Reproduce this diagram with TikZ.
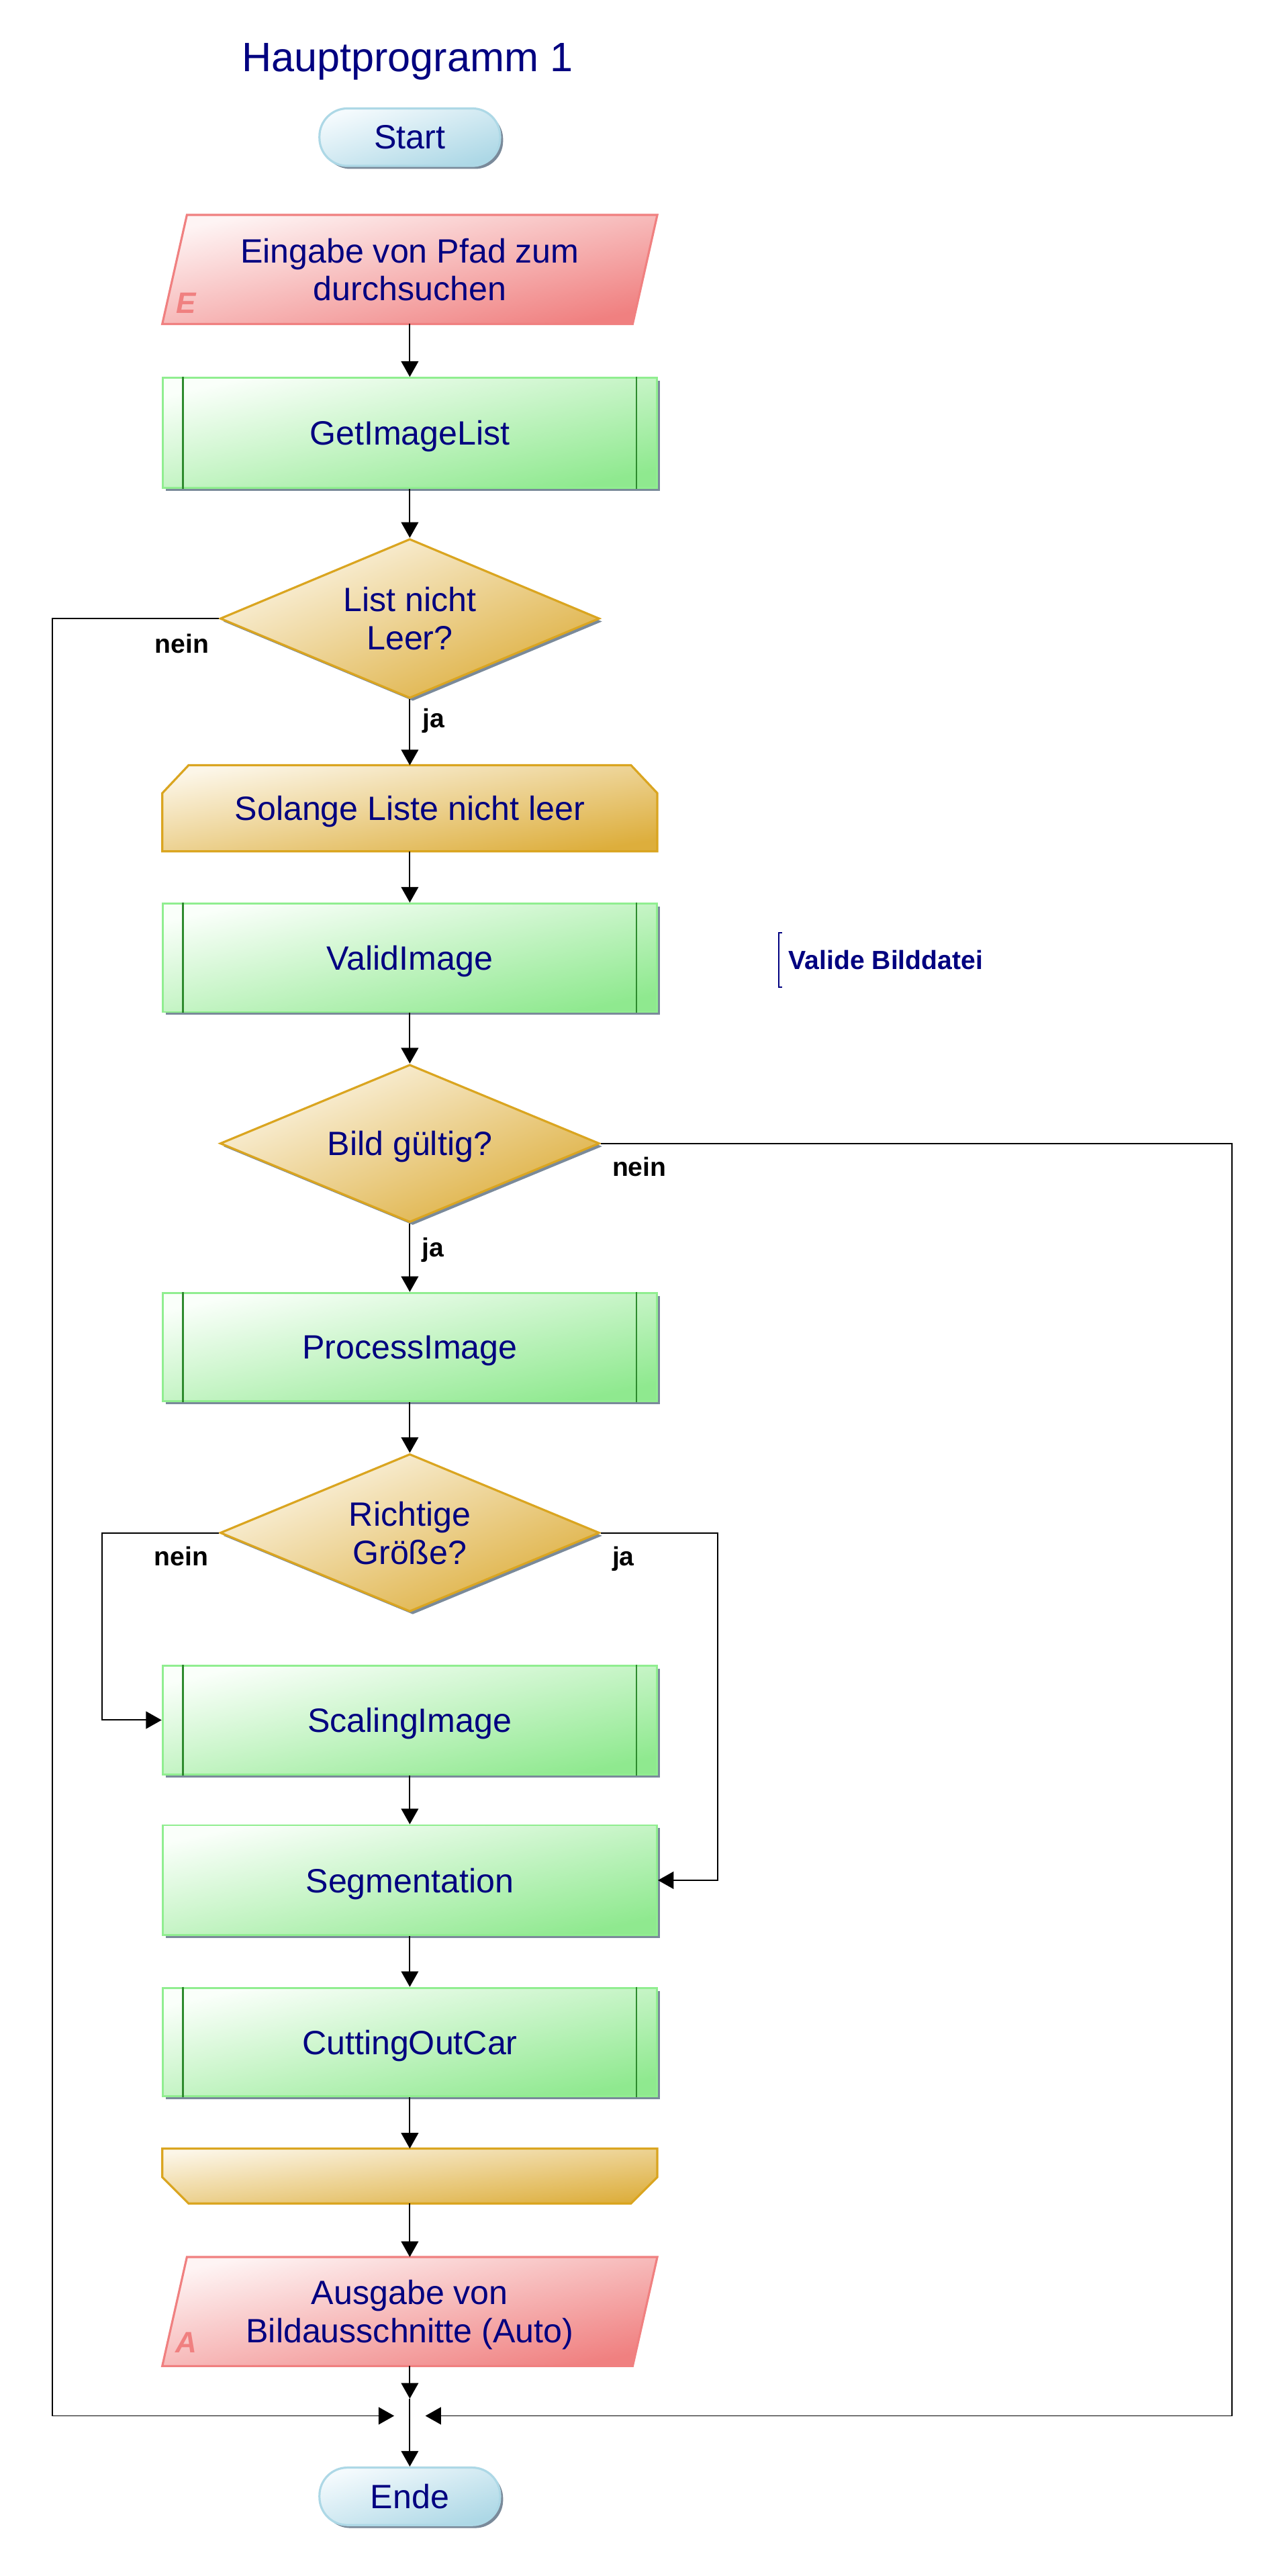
\documentclass[tikz,border=0pt]{standalone}
\usepackage{fontspec}
\setmainfont{Liberation Sans}
\usetikzlibrary{shapes.geometric,arrows.meta,shadows}
\pgfdeclarelayer{back}
\pgfdeclarelayer{bg}
\pgfsetlayers{back,bg,main}
\definecolor{navy}{HTML}{000080}
\definecolor{shd}{HTML}{7A8A9A}
\definecolor{gborder}{HTML}{90EE90}
\definecolor{gstart}{HTML}{FAFFFA}
\definecolor{gend}{HTML}{8FE98F}
\definecolor{gline}{HTML}{2E8B2E}
\definecolor{oborder}{HTML}{DAA520}
\definecolor{ostart}{HTML}{FCF6E8}
\definecolor{oend}{HTML}{DDAE3C}
\definecolor{rborder}{HTML}{F08080}
\definecolor{rstart}{HTML}{FEF4F4}
\definecolor{rend}{HTML}{F08080}
\definecolor{bborder}{HTML}{ADD8E6}
\definecolor{bstart}{HTML}{F4FAFD}
\definecolor{bend}{HTML}{ADD8E6}
\tikzset{
  txt/.style={text=navy,font=\fontsize{20.5}{23.2}\selectfont,align=center,text depth=0pt},
  shadowed/.style={drop shadow={shadow xshift=1.8pt,shadow yshift=-1.8pt,fill=shd,opacity=1}},
  terminal/.style={txt,rectangle,rounded corners=17pt,minimum width=110pt,minimum height=35pt,
    draw=bborder,line width=1.3pt,top color=bstart,bottom color=bend,shading angle=17.6,shadowed},
  proc/.style={txt,rectangle,minimum width=301pt,minimum height=67pt,
    draw=gborder,line width=1.2pt,top color=gstart,bottom color=gend,shading angle=12.5,shadowed},
  decision/.style={txt,diamond,shape aspect=2.4,minimum width=231pt,minimum height=97pt,inner sep=0pt,
    draw=oborder,line width=1.3pt,top color=ostart,bottom color=oend,shading angle=22.8,shadowed},
  ghost/.style={txt,rectangle,inner sep=0pt,minimum width=301pt},
  conn/.style={line width=0.8pt,-{Triangle[length=9.5pt,width=10.5pt]}},
  lbl/.style={font=\fontsize{16}{18}\selectfont\bfseries,text=black,anchor=base west,inner sep=0pt},
  iolet/.style={font=\fontsize{18}{20}\selectfont\bfseries\itshape,text=rborder,anchor=base west,inner sep=0pt},
  annot/.style={font=\fontsize{16}{18}\selectfont\bfseries,text=navy,anchor=base west,inner sep=0pt},
  innerline/.style={gline,line width=1pt},
  redshape/.style={draw=rborder,line width=1.3pt,top color=rstart,bottom color=rend,shading angle=12.4},
  goldshape/.style={draw=oborder,line width=1.3pt,top color=ostart,bottom color=oend},
}
\newcommand\innerlines[1]{%
  \draw[innerline] ([xshift=13pt]#1.north west) -- ([xshift=13pt]#1.south west);
  \draw[innerline] ([xshift=-13pt]#1.north east) -- ([xshift=-13pt]#1.south east);}
\begin{document}
\begin{tikzpicture}[x=1pt,y=-1pt]
\begin{pgfonlayer}{back}
\fill[white] (0,0) rectangle (782,1568);
\end{pgfonlayer}
\useasboundingbox (0,0) rectangle (782,1568);

% title
\node[text=navy,font=\fontsize{25}{30}\selectfont,anchor=base,inner sep=0pt] (title) at (248,43.6) {Hauptprogramm 1};

% nodes
\node[terminal] (start) at (249.5,83.5) {Start};
\node[ghost,minimum height=66pt] (in) at (249.5,164) {Eingabe von Pfad zum\\durchsuchen};
\node[iolet] (inE) at (107,190.7) {E};
\node[proc] (p1) at (249.5,263.5) {GetImageList};
\node[decision] (d1) at (249.5,376.5) {List nicht\\Leer?};
\node[ghost,minimum height=52pt] (ls) at (249.5,492) {Solange Liste nicht leer};
\node[proc,minimum height=66pt] (p2) at (249.5,583) {ValidImage};
\node[decision,minimum height=96pt] (d2) at (249.5,696) {Bild gültig?};
\node[proc,minimum height=66pt] (p3) at (249.5,820) {ProcessImage};
\node[decision,minimum height=96pt] (d3) at (249.5,933) {Richtige\\Größe?};
\node[proc,minimum height=66pt] (p4) at (249.5,1047) {ScalingImage};
\node[proc] (p5) at (249.5,1144.5) {Segmentation};
\node[proc,minimum height=66pt] (p6) at (249.5,1243) {CuttingOutCar};
\node[ghost,minimum height=33pt] (le) at (249.5,1324.5) {};
\node[ghost,minimum height=66pt] (out) at (249.5,1407) {Ausgabe von\\Bildausschnitte (Auto)};
\node[iolet] (outA) at (106.5,1432) {A};
\node[terminal] (ende) at (249.5,1519.5) {Ende};

\innerlines{p1}
\innerlines{p2}
\innerlines{p3}
\innerlines{p4}
\innerlines{p6}

% custom shapes on background layer
\begin{pgfonlayer}{bg}
\begin{scope}[xshift=1.8pt,yshift=-1.8pt]
\fill[shd] (in.south west) -- ([xshift=15pt]in.north west) -- (in.north east) -- ([xshift=-15pt]in.south east) -- cycle;
\fill[shd] (out.south west) -- ([xshift=15pt]out.north west) -- (out.north east) -- ([xshift=-15pt]out.south east) -- cycle;
\fill[shd] ([yshift=-17pt]ls.north west) -- ([xshift=16pt]ls.north west) -- ([xshift=-16pt]ls.north east) -- ([yshift=-17pt]ls.north east) -- (ls.south east) -- (ls.south west) -- cycle;
\fill[shd] (le.north west) -- (le.north east) -- ([yshift=16pt]le.south east) -- ([xshift=-16pt]le.south east) -- ([xshift=16pt]le.south west) -- ([yshift=16pt]le.south west) -- cycle;
\end{scope}
\path[redshape] (in.south west) -- ([xshift=15pt]in.north west) -- (in.north east) -- ([xshift=-15pt]in.south east) -- cycle;
\path[redshape] (out.south west) -- ([xshift=15pt]out.north west) -- (out.north east) -- ([xshift=-15pt]out.south east) -- cycle;
\path[goldshape,shading angle=9.8] ([yshift=-17pt]ls.north west) -- ([xshift=16pt]ls.north west) -- ([xshift=-16pt]ls.north east) -- ([yshift=-17pt]ls.north east) -- (ls.south east) -- (ls.south west) -- cycle;
\path[goldshape,shading angle=6.3] (le.north west) -- (le.north east) -- ([yshift=16pt]le.south east) -- ([xshift=-16pt]le.south east) -- ([xshift=16pt]le.south west) -- ([yshift=16pt]le.south west) -- cycle;
\end{pgfonlayer}

% annotation
\node[annot] (note) at (480,590) {Valide Bilddatei};
\draw[navy,line width=0.8pt] ([shift={(-4,-16.5)}]note.west) -- ([shift={(-6,-16.5)}]note.west) -- ([shift={(-6,16.5)}]note.west) -- ([shift={(-4,16.5)}]note.west);

% helper coordinates
\coordinate (xl) at (32,0);
\coordinate (xr) at (750,0);
\coordinate (xa) at (62,0);
\coordinate (xb) at (437,0);
\coordinate (jn) at (249.5,1470.5);

% connectors
\draw[conn] (in.south) -- (p1.north);
\draw[conn] (p1.south) -- (d1.north);
\draw[conn] (d1.south) -- (ls.north);
\draw[conn] (ls.south) -- (p2.north);
\draw[conn] (p2.south) -- (d2.north);
\draw[conn] (d2.south) -- (p3.north);
\draw[conn] (p3.south) -- (d3.north);
\draw[conn] (d3.west) -- (d3.west -| xa) |- (p4.west);
\draw[conn] (d3.east) -- (d3.east -| xb) |- (p5.east);
\draw[conn] (p4.south) -- (p5.north);
\draw[conn] (p5.south) -- (p6.north);
\draw[conn] (p6.south) -- (le.north);
\draw[conn] (le.south) -- (out.north);
\draw[conn] (d1.west) -- (d1.west -| xl) |- ([xshift=-9.5pt]jn);
\draw[conn] (d2.east) -- (d2.east -| xr) |- ([xshift=9.5pt]jn);
\draw[conn] (out.south) -- ([yshift=10.5pt]jn);
\draw[conn] ([yshift=10.5pt]jn) -- (ende.north);

% branch labels
\node[lbl] (n1) at (94,397.5) {nein};
\node[lbl] (j1) at (257,443) {ja};
\node[lbl] (n2) at (372.6,716) {nein};
\node[lbl] (j2) at (256.6,765) {ja};
\node[lbl] (n3) at (93.6,953) {nein};
\node[lbl] (j3) at (372.6,953) {ja};
\end{tikzpicture}
\end{document}
